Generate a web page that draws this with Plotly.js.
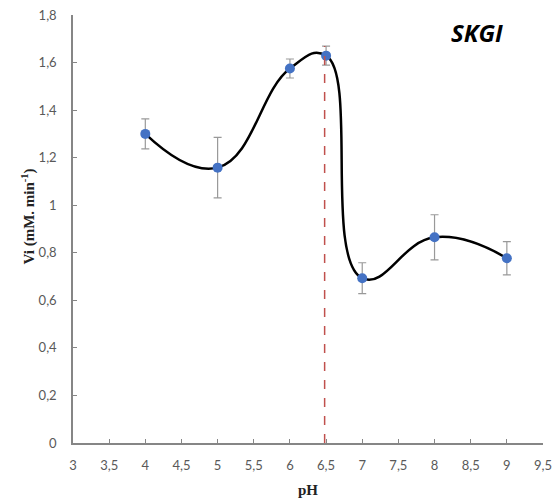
<!DOCTYPE html>
<html><head><meta charset="utf-8">
<script src="https://cdn.plot.ly/plotly-3.0.1.min.js"></script>
<style>body{margin:0;background:#fff}#c{width:555px;height:504px}</style>
</head><body><div id="c"></div>
<script>
const pH = [4, 5, 6, 6.5, 7, 8, 9];
const vi = [1.30, 1.158, 1.575, 1.629, 0.693, 0.865, 0.777];
const err = [0.063, 0.127, 0.04, 0.04, 0.065, 0.095, 0.07];
const optimumPH = 6.48;
const optimumTop = 1.67;
const xTicks = [3,3.5,4,4.5,5,5.5,6,6.5,7,7.5,8,8.5,9,9.5];

const curve = {x: pH, y: vi, mode: 'lines', line: {shape: 'spline', smoothing: 1.3, color: '#000', width: 2.5}, hoverinfo: 'skip'};
const pts = {x: pH, y: vi, mode: 'markers', marker: {color: '#4472C4', size: 10},
  error_y: {type: 'data', array: err, visible: true, color: '#999999', thickness: 1.2, width: 4}};

const tickFont = {family: 'Lato, "Open Sans", sans-serif', size: 13, color: '#595959'};
const titleFont = {family: '"Liberation Serif", serif', size: 15, color: '#222'};
const layout = {
  width: 555, height: 504,
  margin: {l: 73, r: 12, t: 15, b: 61},
  separators: ',.',
  showlegend: false,
  paper_bgcolor: '#fff', plot_bgcolor: '#fff',
  xaxis: {range: [3, 9.5], tickvals: xTicks, ticks: 'inside', ticklen: 4, tickcolor: '#868686',
    showline: true, linecolor: '#868686', linewidth: 1.5, showgrid: false, zeroline: false,
    tickfont: tickFont, ticklabelstandoff: 10,
    title: {text: '<b>pH</b>', font: titleFont, standoff: 12}},
  yaxis: {range: [0, 1.8], dtick: 0.2, ticks: 'inside', ticklen: 4, tickcolor: '#868686',
    showline: true, linecolor: '#868686', linewidth: 1.5, showgrid: false, zeroline: false,
    tickfont: tickFont, ticklabelstandoff: 12},
  shapes: [{type: 'line', xref: 'x', yref: 'y', x0: optimumPH, x1: optimumPH, y0: 0, y1: optimumTop,
    line: {color: '#C0504D', width: 1.5, dash: 'dash'}}],
  annotations: [
    {text: '<b><i>SKGI</i></b>', xref: 'paper', yref: 'paper', x: 0.86, y: 0.96, xanchor: 'center', yanchor: 'middle',
     showarrow: false, font: {family: '"Open Sans", sans-serif', size: 24, color: '#000'}},
    {text: '<b>Vi (mM. min<sup>-1</sup>)</b>', xref: 'paper', yref: 'paper', x: -0.095, y: 0.53, xanchor: 'center', yanchor: 'middle',
     textangle: -90, showarrow: false, font: titleFont}
  ]
};
Plotly.newPlot('c', [curve, pts], layout, {displayModeBar: false});
</script></body></html>
